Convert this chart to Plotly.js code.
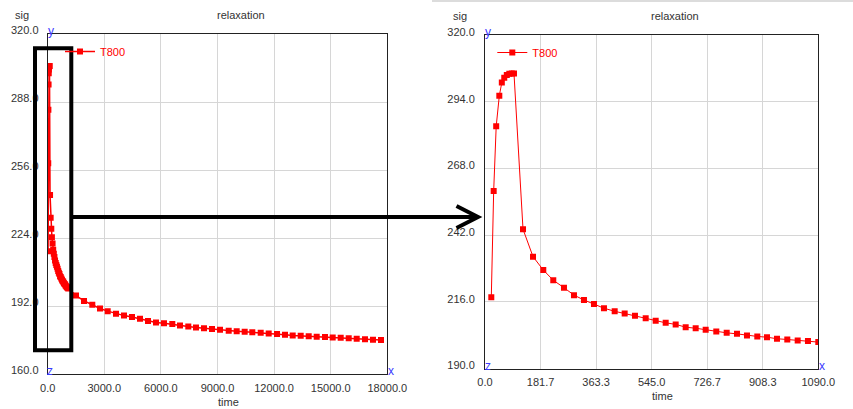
<!DOCTYPE html>
<html>
<head>
<meta charset="utf-8">
<script src="https://cdn.plot.ly/plotly-3.0.1.min.js"></script>
<style>html,body{margin:0;padding:0;background:#fff;}#chart{width:853px;height:409px;}</style>
</head>
<body>
<div id="chart"></div>
<script>
// ---- data ----
const seriesName = "T800";
const timeEarly = [20.6, 28.4, 36.6, 46.8, 55, 63, 71.3, 79.5, 87.6, 94.8,
  124.3, 157, 190.6, 223.3, 258.3, 291, 323.7, 356.4, 389.1, 424.1,
  456.8, 490.5, 525.5, 558.2, 590.9, 623.6, 656.3, 689, 721.7, 756.4,
  790.4, 824.1, 856.8, 890.5, 922.2, 954.9, 988.6, 1022.6, 1056.2, 1090];
const sigEarly = [217.8, 259.2, 284.4, 296.3, 301.5, 303.3, 304.4, 304.9, 305.0, 305.0,
  244.3, 233.6, 228.4, 224.4, 221.5, 218.6, 216.7, 215.1, 213.5, 212.3,
  211.4, 210.6, 209.6, 208.6, 207.8, 207.2, 206.1, 205.7, 205.1, 204.4,
  203.9, 203.5, 202.9, 202.5, 202.2, 201.6, 201.3, 200.9, 200.7, 200.3];
const timeLate = [1500, 1924, 2364, 2772, 3180, 3620, 4044, 4468, 4892, 5316,
  5740, 6164, 6604, 7012, 7452, 7860, 8284, 8709, 9133, 9594,
  10017, 10441, 10844, 11290, 11714, 12154, 12578, 12986, 13410, 13834,
  14258, 14698, 15106, 15530, 15954, 16378, 16818, 17242, 17666];
const sigLate = [197.0, 194.5, 192.7, 190.9, 189.7, 188.5, 187.6, 186.9, 186.1, 185.1,
  184.4, 184.0, 183.6, 182.9, 182.5, 182.0, 181.6, 181.3, 180.9, 180.5,
  180.2, 180.0, 179.8, 179.5, 179.2, 178.9, 178.6, 178.3, 178.1, 177.9,
  177.7, 177.5, 177.3, 177.2, 177.0, 176.7, 176.5, 176.3, 176.1];
const zoomMax = 1090;
const leftXTicks = [0, 3000, 6000, 9000, 12000, 15000, 18000];
const leftYTicks = [160, 192, 224, 256, 288, 320];
const rightXTicks = [0, 181.667, 363.333, 545, 726.667, 908.333, 1090];
const rightYTicks = [190, 216, 242, 268, 294, 320];
const chartTitle = "relaxation";
const xTitle = "time";
const yTitle = "sig";
const cornerLetters = ["y", "z", "x"];

// ---- build ----
const allTime = timeEarly.concat(timeLate);
const allSig = sigEarly.concat(sigLate);
const zt = [], zs = [];
allTime.forEach((t, i) => { if (t <= zoomMax) { zt.push(t); zs.push(allSig[i]); } });

const W = 853, H = 409;
const fx = p => p / W;
const fy = p => 1 - p / H;
const FONT = "Liberation Sans, Arial, sans-serif";
const TXT = "#333333";
const RED = "#ff0000";
const BLUE = "#3b3bff";

const traces = [
  { x: allTime, y: allSig, xaxis: "x", yaxis: "y", type: "scatter", mode: "lines+markers",
    name: seriesName, legend: "legend", showlegend: true,
    line: { color: RED, width: 1.5 }, marker: { symbol: "square", size: 6, color: RED } },
  { x: zt, y: zs, xaxis: "x2", yaxis: "y2", type: "scatter", mode: "lines+markers",
    name: seriesName, legend: "legend2", showlegend: true,
    line: { color: RED, width: 1 }, marker: { symbol: "square", size: 6, color: RED } }
];

function axisBase(extra) {
  return Object.assign({
    showline: true, mirror: true, linecolor: "#222", linewidth: 1,
    showgrid: true, gridcolor: "#d6d6d6", gridwidth: 1, zeroline: false,
    ticks: "", tickfont: { family: FONT, size: 11, color: TXT },
    tickformat: ".1f", automargin: false, fixedrange: true
  }, extra);
}

const layout = {
  width: W, height: H,
  margin: { l: 0, r: 0, t: 0, b: 0 },
  paper_bgcolor: "#fff", plot_bgcolor: "#fff",
  showlegend: true,
  font: { family: FONT, size: 11, color: TXT },
  xaxis: axisBase({ domain: [fx(47.7), fx(387.3)], range: [0, 18000], tickvals: leftXTicks,
    anchor: "y", ticklabelstandoff: 3 }),
  yaxis: axisBase({ domain: [fy(374.3), fy(34)], range: [160, 320], tickvals: leftYTicks,
    anchor: "x", ticklabelstandoff: 6, ticklabelshift: -4 }),
  xaxis2: axisBase({ domain: [fx(485), fx(818.3)], range: [0, zoomMax], tickvals: rightXTicks,
    anchor: "y2", ticklabelstandoff: 3 }),
  yaxis2: axisBase({ domain: [fy(368.5), fy(35)], range: [190, 320], tickvals: rightYTicks,
    anchor: "x2", ticklabelstandoff: 7, ticklabelshift: -3 }),
  legend: { visible: true, x: fx(60), y: fy(37), xanchor: "left", yanchor: "top", bgcolor: "rgba(0,0,0,0)",
    font: { family: FONT, size: 11, color: RED } },
  legend2: { visible: true, x: fx(492.3), y: fy(38), xanchor: "left", yanchor: "top", bgcolor: "rgba(0,0,0,0)",
    font: { family: FONT, size: 11, color: RED } },
  annotations: [],
  shapes: []
};

function ann(text, x, y, color, anchor, size) {
  layout.annotations.push({ text: text, xref: "paper", yref: "paper", x: fx(x), y: fy(y),
    xanchor: anchor || "center", yanchor: "middle", showarrow: false,
    font: { family: FONT, size: size || 11, color: color || TXT } });
}
// left panel texts
ann(yTitle, 12.5, 14.7, TXT, "left");
ann(chartTitle, 241, 14.7);
ann(xTitle, 228, 401.5);
ann(cornerLetters[0], 50.5, 31, BLUE, "center", 12);
ann(cornerLetters[1], 49.8, 370.5, BLUE, "center", 12);
ann(cornerLetters[2], 390.5, 370.5, BLUE, "center", 12);
// right panel texts
ann(yTitle, 450.5, 15.7, TXT, "left");
ann(chartTitle, 675, 15.7);
ann(xTitle, 662.7, 396);
ann(cornerLetters[0], 488, 32.3, BLUE, "center", 12);
ann(cornerLetters[1], 488, 365.5, BLUE, "center", 12);
ann(cornerLetters[2], 821.5, 365.5, BLUE, "center", 12);

// window edge of the right screenshot
layout.shapes.push({ type: "line", xref: "paper", yref: "paper", x0: fx(432), x1: fx(853), y0: fy(1), y1: fy(1),
  line: { color: "#dcdcdc", width: 2 } });
// black highlight rectangle
layout.shapes.push({ type: "rect", xref: "paper", yref: "paper", x0: fx(35), x1: fx(71.3), y0: fy(350.3), y1: fy(48.3),
  line: { color: "#000", width: 4 }, fillcolor: "rgba(0,0,0,0)" });
// arrow shaft
layout.shapes.push({ type: "line", xref: "paper", yref: "paper", x0: fx(73), x1: fx(476), y0: fy(217), y1: fy(217),
  line: { color: "#000", width: 4 } });
// arrow head
layout.shapes.push({ type: "path", xref: "paper", yref: "paper",
  path: "M" + fx(456.5) + "," + fy(206) + " L" + fx(478) + "," + fy(217) + " L" + fx(456.5) + "," + fy(228),
  line: { color: "#000", width: 4 } });

Plotly.newPlot("chart", traces, layout, { displayModeBar: false, staticPlot: true });
</script>
</body>
</html>
